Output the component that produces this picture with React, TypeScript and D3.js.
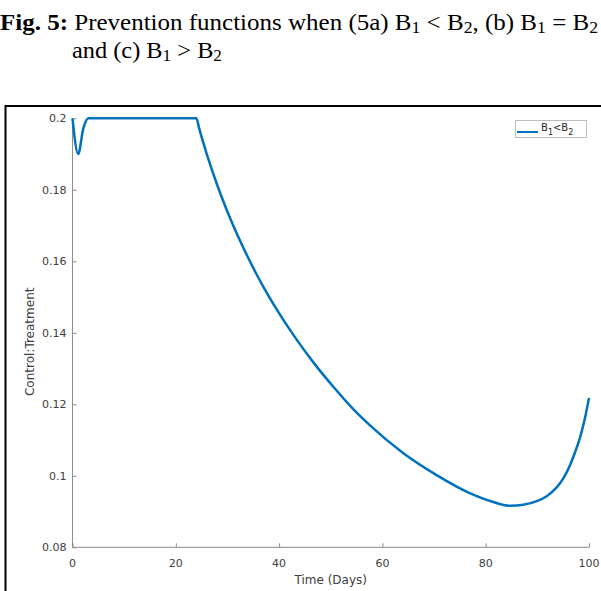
import { useEffect, useRef } from "react";
import * as d3 from "d3";

// values
const timeDays = [0, 1.1, 2.1, 3.1, 24, 24.5, 26, 28, 30.5, 33.7, 36.9, 40.2, 43.4, 46.6, 50.5, 54.4, 57.6, 64, 70.5, 77, 81, 84.7, 87.3, 89.9, 91.8, 93.7, 95, 96.3, 97.3, 98.3, 99.2, 100];
const controlValues = [0.2, 0.19, 0.1972, 0.2, 0.2, 0.1973, 0.19, 0.1814, 0.1721, 0.1619, 0.153, 0.145, 0.1381, 0.1318, 0.1249, 0.1186, 0.1141, 0.1064, 0.1002, 0.0951, 0.0929, 0.0916, 0.0919, 0.0929, 0.0943, 0.0967, 0.0992, 0.1029, 0.1066, 0.1109, 0.116, 0.1218];
const xTicks = [0, 20, 40, 60, 80, 100];
const yTicks = [0.08, 0.1, 0.12, 0.14, 0.16, 0.18, 0.2];
const yTickLabels = ["0.08", "0.1", "0.12", "0.14", "0.16", "0.18", "0.2"];

const App = () => {
    const ref = useRef<SVGSVGElement>(null);

    useEffect(() => {
        const svg = d3.select(ref.current);
        svg.selectAll("*").remove();

        const font = "'DejaVu Sans', sans-serif";
        const serif = "'Liberation Serif', 'Times New Roman', serif";
        const axisColor = "#8c8c8c";
        const labelColor = "#404040";

        // caption, line 1
        const line1 = svg.append("text")
            .attr("font-family", serif)
            .attr("font-size", 24)
            .attr("fill", "#000")
            .attr("x", 0)
            .attr("y", 30)
            .attr("textLength", 598)
            .attr("lengthAdjust", "spacingAndGlyphs");
        line1.append("tspan").attr("font-weight", "bold").text("Fig. 5:");
        line1.append("tspan").text(" Prevention functions when (5a) B");
        line1.append("tspan").attr("font-size", 17).attr("dy", 3).text("1");
        line1.append("tspan").attr("dy", -3).text(" < B");
        line1.append("tspan").attr("font-size", 17).attr("dy", 3).text("2");
        line1.append("tspan").attr("dy", -3).text(", (b) B");
        line1.append("tspan").attr("font-size", 17).attr("dy", 3).text("1");
        line1.append("tspan").attr("dy", -3).text(" = B");
        line1.append("tspan").attr("font-size", 17).attr("dy", 3).text("2");

        // caption, line 2
        const line2 = svg.append("text")
            .attr("font-family", serif)
            .attr("font-size", 24)
            .attr("fill", "#000")
            .attr("x", 72)
            .attr("y", 58)
            .attr("textLength", 150)
            .attr("lengthAdjust", "spacingAndGlyphs");
        line2.append("tspan").text("and (c) B");
        line2.append("tspan").attr("font-size", 17).attr("dy", 3).text("1");
        line2.append("tspan").attr("dy", -3).text(" > B");
        line2.append("tspan").attr("font-size", 17).attr("dy", 3).text("2");

        // outer frame of the figure
        svg.append("rect")
            .attr("x", 5.5)
            .attr("y", 106)
            .attr("width", 620)
            .attr("height", 520)
            .attr("fill", "none")
            .attr("stroke", "#000")
            .attr("stroke-width", 2);

        const x = d3.scaleLinear().domain([0, 100]).range([72.5, 589]);
        const y = d3.scaleLinear().domain([0.08, 0.2]).range([547.3, 118.3]);

        // axes
        const xAxis = svg.append("g")
            .attr("transform", `translate(0, ${y(0.08)})`)
            .call(d3.axisTop(x).tickValues(xTicks).tickSize(4).tickFormat(() => ""));
        xAxis.select(".domain").attr("stroke", axisColor).attr("d", `M${x(0)},0H${x(100)}`);
        xAxis.selectAll(".tick line").attr("stroke", axisColor);

        const yAxis = svg.append("g")
            .attr("transform", `translate(${x(0)}, 0)`)
            .call(d3.axisRight(y).tickValues(yTicks).tickSize(4).tickFormat(() => ""));
        yAxis.select(".domain").attr("stroke", axisColor).attr("d", `M0,${y(0.2)}V${y(0.08)}`);
        yAxis.selectAll(".tick line").attr("stroke", axisColor);

        // tick labels
        svg.selectAll(".xlab")
            .data(xTicks)
            .enter()
            .append("text")
            .attr("x", d => x(d))
            .attr("y", 567)
            .attr("text-anchor", "middle")
            .attr("font-family", font)
            .attr("font-size", 11)
            .attr("fill", labelColor)
            .text(d => d);

        svg.selectAll(".ylab")
            .data(yTicks)
            .enter()
            .append("text")
            .attr("x", 66.5)
            .attr("y", d => y(d) + 4)
            .attr("text-anchor", "end")
            .attr("font-family", font)
            .attr("font-size", 11)
            .attr("fill", labelColor)
            .text((d, i) => yTickLabels[i]);

        // axis titles
        svg.append("text")
            .attr("x", x(50))
            .attr("y", 584)
            .attr("text-anchor", "middle")
            .attr("font-family", font)
            .attr("font-size", 12)
            .attr("fill", labelColor)
            .text("Time (Days)");

        svg.append("text")
            .attr("transform", `translate(34, ${(y(0.08) + y(0.2)) / 2 + 9}) rotate(-90)`)
            .attr("text-anchor", "middle")
            .attr("font-family", font)
            .attr("font-size", 12)
            .attr("fill", labelColor)
            .text("Control:Treatment");

        // curve
        const data = timeDays.map((t, i) => ({ t, v: controlValues[i] }));
        const line = d3.line<{ t: number; v: number }>()
            .x(d => x(d.t))
            .y(d => y(d.v))
            .curve(d3.curveMonotoneX);

        svg.append("path")
            .datum(data)
            .attr("fill", "none")
            .attr("stroke", "#0072BD")
            .attr("stroke-width", 2.5)
            .attr("stroke-linejoin", "round")
            .attr("d", line);

        // legend
        svg.append("rect")
            .attr("x", 515.5)
            .attr("y", 120.5)
            .attr("width", 71)
            .attr("height", 17)
            .attr("fill", "#fff")
            .attr("stroke", "#bdbdbd")
            .attr("stroke-width", 1);

        svg.append("line")
            .attr("x1", 517)
            .attr("x2", 538)
            .attr("y1", 132)
            .attr("y2", 132)
            .attr("stroke", "#0072BD")
            .attr("stroke-width", 2);

        const leg = svg.append("text")
            .attr("x", 541)
            .attr("y", 131)
            .attr("font-family", font)
            .attr("font-size", 10)
            .attr("fill", "#262626");
        leg.append("tspan").text("B");
        leg.append("tspan").attr("font-size", 8).attr("dy", 4).text("1");
        leg.append("tspan").attr("dy", -4).text("<B");
        leg.append("tspan").attr("font-size", 8).attr("dy", 4).text("2");
    }, []);

    return (
        <svg
            ref={ref}
            width={601}
            height={591}
            style={{ position: "absolute", left: 0, top: 0, background: "#fff" }}
        />
    );
};

export default App;
